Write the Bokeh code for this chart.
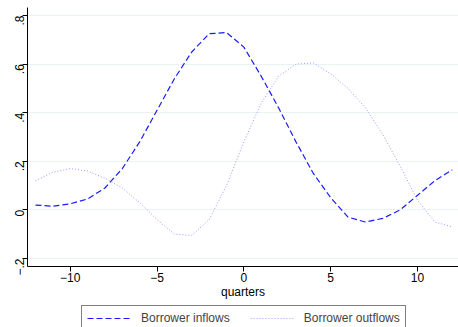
import math
from bokeh.plotting import figure
from bokeh.layouts import column
from bokeh.models import Legend, LegendItem, FixedTicker, Range1d
from bokeh.embed import file_html
from bokeh.resources import INLINE

quarters = list(range(-12, 13))
inflows = [0.02, 0.015, 0.025, 0.045, 0.09, 0.17, 0.28, 0.41, 0.54, 0.65, 0.725, 0.73,
           0.67, 0.55, 0.42, 0.28, 0.15, 0.05, -0.03, -0.05, -0.035, 0.0, 0.06, 0.12, 0.165]
outflows = [0.12, 0.155, 0.17, 0.16, 0.13, 0.09, 0.03, -0.04, -0.1, -0.105, -0.04, 0.1,
            0.28, 0.44, 0.55, 0.6, 0.605, 0.56, 0.5, 0.42, 0.31, 0.18, 0.04, -0.05, -0.07]
x_ticks = [-10, -5, 0, 5, 10]
x_tick_labels = ["\u221210", "\u22125", "0", "5", "10"]
y_ticks = [-0.2, 0.0, 0.2, 0.4, 0.6, 0.8]
y_tick_labels = ["\u2212.2", "0", ".2", ".4", ".6", ".8"]
series_names = ["Borrower inflows", "Borrower outflows"]

FONT = "Liberation Sans"
FS = "12px"
IN_COLOR, IN_DASH, IN_W = "#1a1aff", "6 3", 1.2
OUT_COLOR, OUT_DASH, OUT_W = "#9a9aff", "1 2", 1

p = figure(width=458, height=305, output_backend="svg", toolbar_location=None,
           x_range=Range1d(-12.46, 12.36), y_range=Range1d(-0.233, 0.833),
           min_border_left=27, min_border_right=0, min_border_top=7, min_border_bottom=39)
p.outline_line_color = None
p.background_fill_color = "white"
p.border_fill_color = "white"

p.xgrid.grid_line_color = None
p.ygrid.grid_line_color = "#eaf2f3"
p.ygrid.grid_line_width = 1

p.xaxis.ticker = FixedTicker(ticks=x_ticks)
p.xaxis.major_label_overrides = {t: l for t, l in zip(x_ticks, x_tick_labels)}
p.yaxis.ticker = FixedTicker(ticks=y_ticks)
p.yaxis.major_label_overrides = {t: l for t, l in zip(y_ticks, y_tick_labels)}
p.yaxis.major_label_orientation = math.pi / 2

for ax in (p.xaxis, p.yaxis):
    ax.axis_line_color = "black"
    ax.major_tick_line_color = "black"
    ax.major_tick_out = 5
    ax.major_tick_in = 0
    ax.minor_tick_line_color = None
    ax.major_label_text_font = FONT
    ax.major_label_text_font_size = FS
    ax.major_label_text_color = "black"
p.xaxis.major_label_standoff = 1
p.yaxis.major_label_standoff = 3

p.xaxis.axis_label = "quarters"
p.xaxis.axis_label_text_font = FONT
p.xaxis.axis_label_text_font_size = FS
p.xaxis.axis_label_text_font_style = "normal"
p.xaxis.axis_label_text_color = "black"
p.xaxis.axis_label_standoff = 0

p.line(quarters, inflows, line_color=IN_COLOR, line_width=IN_W, line_dash=IN_DASH)
p.line(quarters, outflows, line_color=OUT_COLOR, line_width=OUT_W, line_dash=OUT_DASH)

# legend strip below the chart (its key lines reuse the series, scrolled out of view)
lg = figure(width=458, height=22, output_backend="svg", toolbar_location=None,
            x_range=Range1d(100, 101), y_range=Range1d(100, 101),
            min_border_left=0, min_border_right=0, min_border_top=0, min_border_bottom=0)
lg.axis.visible = False
lg.grid.visible = False
lg.outline_line_color = None
lg.background_fill_color = "white"
lg.border_fill_color = "white"
k1 = lg.line(quarters, inflows, line_color=IN_COLOR, line_width=IN_W, line_dash=IN_DASH)
k2 = lg.line(quarters, outflows, line_color=OUT_COLOR, line_width=OUT_W, line_dash=OUT_DASH)

legend = Legend(items=[LegendItem(label=series_names[0], renderers=[k1]),
                       LegendItem(label=series_names[1], renderers=[k2])],
                location=(54, -4), orientation="horizontal")
legend.label_text_font = FONT
legend.label_text_font_size = FS
legend.label_height = 14
legend.glyph_height = 14
legend.glyph_width = 45
legend.label_standoff = 9
legend.spacing = 20
legend.padding = 5
legend.margin = 0
legend.border_line_color = "black"
legend.border_line_width = 1
legend.background_fill_color = "white"
legend.background_fill_alpha = 1
lg.add_layout(legend, "center")

layout = column(p, lg, spacing=0)
open("out.html", "w").write(file_html(layout, INLINE))
